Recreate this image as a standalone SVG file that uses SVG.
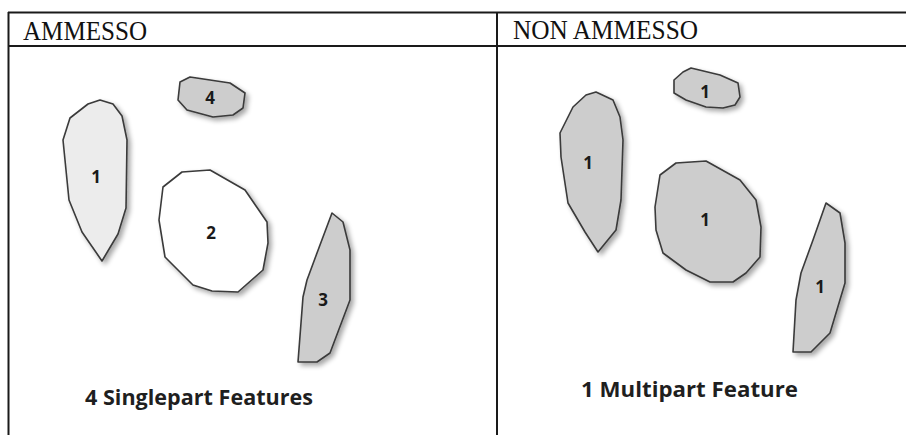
<svg xmlns="http://www.w3.org/2000/svg" width="906" height="435" viewBox="0 0 906 435">
<style>
.grid{stroke:#1a1a1a;stroke-width:2;fill:none}
.hdr{font-family:"Liberation Serif","DejaVu Serif",serif;font-size:26.5px;fill:#111}
.shape{stroke:#3a3a3a;stroke-width:1.6;stroke-linejoin:round;filter:url(#sh)}
.gray{fill:#cdcdcd}
.light{fill:#ececec}
.white{fill:#ffffff}
.lbl{font-family:"Open Sans","DejaVu Sans",sans-serif;font-weight:bold;font-size:17px;fill:#1a1a1a;text-anchor:middle}
.cap{font-family:"Open Sans","DejaVu Sans",sans-serif;font-weight:bold;font-size:21px;fill:#1f1f1f}
</style>
<defs>
<filter id="sh" x="-20%" y="-20%" width="150%" height="150%">
<feGaussianBlur in="SourceAlpha" stdDeviation="2.5"/>
<feOffset dx="3" dy="3" result="b"/>
<feComponentTransfer><feFuncA type="linear" slope="0.35"/></feComponentTransfer>
<feMerge><feMergeNode/><feMergeNode in="SourceGraphic"/></feMerge>
</filter>
</defs>
<rect width="906" height="435" fill="#ffffff"/>
<g id="table">
<line class="grid" x1="8" y1="12.5" x2="906" y2="12.5"/>
<line class="grid" x1="8" y1="46" x2="906" y2="46"/>
<line class="grid" x1="8.5" y1="12" x2="8.5" y2="435"/>
<line class="grid" x1="497" y1="12" x2="497" y2="435"/>
<text class="hdr" x="23" y="39.5" textLength="124" lengthAdjust="spacingAndGlyphs">AMMESSO</text>
<text class="hdr" x="513" y="39" textLength="185" lengthAdjust="spacingAndGlyphs">NON AMMESSO</text>
</g>
<g id="left-1">
<polygon class="shape light" points="100,100 113,104 122,116 127,140 126,208 118,234 102,261 82,232 69,200 63,140 70,118 88,104"/>
<text class="lbl" x="96" y="183">1</text>
</g>
<g id="left-4">
<polygon class="shape gray" points="180,82 190,77 230,83 245,93 243,108 233,115 213,117 187,110 178,100"/>
<text class="lbl" x="210" y="104">4</text>
</g>
<g id="left-2">
<polygon class="shape white" points="163,187 182,172 210,170 245,190 267,222 268,243 263,270 238,292 212,291 193,285 165,257 159,220"/>
<text class="lbl" x="211" y="239">2</text>
</g>
<g id="left-3">
<polygon class="shape gray" points="332,213 343,222 350,250 350,300 330,353 317,362 298,362 303,297 307,280 317,253"/>
<text class="lbl" x="323" y="306">3</text>
</g>
<text id="cap-left" class="cap" x="85" y="405" textLength="228" lengthAdjust="spacingAndGlyphs">4 Singlepart Features</text>
<g id="right-top">
<polygon class="shape gray" points="674,80 683,72 691,68 720,75 738,83 740,97 735,105 723,108 706,107 686,100 674,93"/>
<text class="lbl" x="705" y="98">1</text>
</g>
<g id="right-tall">
<polygon class="shape gray" points="596,92 613,100 620,117 623,140 621,200 616,230 598,252 585,232 568,203 561,157 560,133 573,107 586,95"/>
<text class="lbl" x="588" y="169">1</text>
</g>
<g id="right-big">
<polygon class="shape gray" points="660,175 676,163 706,161 740,180 756,200 761,227 760,257 746,273 733,282 710,282 686,270 663,253 656,230 655,207"/>
<text class="lbl" x="705" y="226">1</text>
</g>
<g id="right-thin">
<polygon class="shape gray" points="826,203 840,213 845,243 845,283 830,333 816,347 811,352 793,352 796,300 801,273 813,240"/>
<text class="lbl" x="820" y="293">1</text>
</g>
<text id="cap-right" class="cap" x="581" y="397" textLength="217" lengthAdjust="spacingAndGlyphs">1 Multipart Feature</text>
</svg>
